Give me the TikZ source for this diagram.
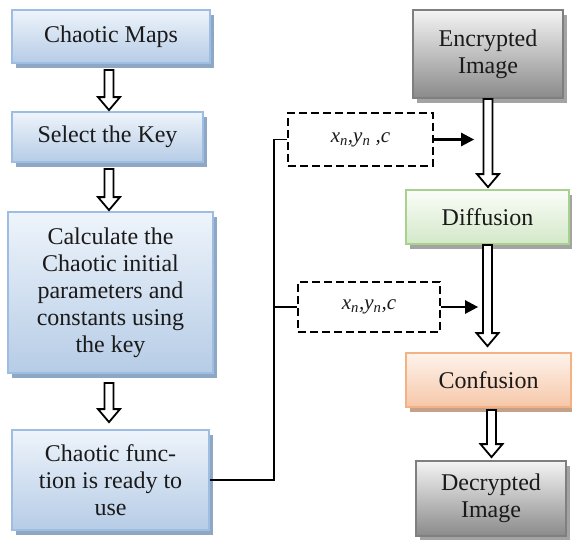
\documentclass[tikz,border=0pt]{standalone}
\usepackage{fontspec}
\setmainfont{Liberation Serif}
\usetikzlibrary{calc,shadows,arrows.meta}
\definecolor{bluetop}{HTML}{EEF4FB}
\definecolor{bluebot}{HTML}{B6CCE6}
\definecolor{blueborder}{HTML}{9DBDE2}
\definecolor{blueshadow}{HTML}{8DA7C4}
\definecolor{graytop}{HTML}{F4F4F4}
\definecolor{graybot}{HTML}{8A8A8A}
\definecolor{grayborder}{HTML}{7F7F7F}
\definecolor{grayshadow}{HTML}{A3A3A3}
\definecolor{greentop}{HTML}{FBFDF9}
\definecolor{greenbot}{HTML}{D3E8C8}
\definecolor{greenborder}{HTML}{A9D18E}
\definecolor{orangetop}{HTML}{FEF3EC}
\definecolor{orangebot}{HTML}{F6C7A8}
\definecolor{orangeborder}{HTML}{F4B183}
\definecolor{orangeshadow}{HTML}{C4A189}
\definecolor{txt}{HTML}{1A1A1A}
\tikzset{
  basebox/.style={rectangle, line width=1.8pt, align=center, text=txt,
    font=\fontsize{24}{27}\selectfont, inner sep=0pt},
  bluebox/.style={basebox, draw=blueborder, top color=bluetop, bottom color=bluebot,
    general shadow={fill=blueshadow, shadow xshift=4pt, shadow yshift=-5pt}},
  graybox/.style={basebox, draw=grayborder, top color=graytop, bottom color=graybot,
    general shadow={fill=grayshadow, shadow xshift=4pt, shadow yshift=-5pt}},
  greenbox/.style={basebox, draw=greenborder, top color=greentop, bottom color=greenbot,
    general shadow={fill=grayshadow, shadow xshift=4pt, shadow yshift=-5pt}},
  orangebox/.style={basebox, draw=orangeborder, top color=orangetop, bottom color=orangebot,
    general shadow={fill=orangeshadow, shadow xshift=4pt, shadow yshift=-5pt}},
  dashbox/.style={rectangle, draw=black, line width=2.3pt, dash pattern=on 8pt off 4pt,
    fill=white, inner sep=0pt, font=\fontsize{21}{24}\selectfont\itshape, text=txt},
  blockarr/.style={draw=black, fill=white, line width=1.8pt, line join=miter},
  conn/.style={draw=black, line width=1.8pt},
  feedarr/.style={draw=black, line width=2.5pt, -{Triangle[length=13pt,width=13pt]}}
}
\newcommand\barrow[2]{\path[blockarr] let \p1=#1, \p2=#2 in
  (\x1-4.5pt,\y1) -- (\x1+4.5pt,\y1) -- (\x1+4.5pt,\y2+13pt) -- (\x1+11pt,\y2+13pt)
  -- (\x1,\y2) -- (\x1-11pt,\y2+13pt) -- (\x1-4.5pt,\y2+13pt) -- cycle;}
\begin{document}
\begin{tikzpicture}[x=1pt,y=-1pt]
\useasboundingbox (0,0) rectangle (572,539);
% left column
\node[bluebox, minimum width=198pt, minimum height=53pt] (cm) at (111,36.5) {Chaotic Maps};
\node[bluebox, minimum width=191pt, minimum height=50pt] (sk) at (107.5,137) {Select the Key};
\node[bluebox, minimum width=205pt, minimum height=161pt] (calc) at (110.5,292.5)
  {Calculate the\\Chaotic initial\\parameters and\\constants using\\the key};
\node[bluebox, minimum width=197pt, minimum height=100pt] (cf) at (110.5,480)
  {Chaotic func-\\tion is ready to\\use};
% right column
\node[graybox, minimum width=150pt, minimum height=88pt] (enc) at (488,54) {Encrypted\\Image};
\node[greenbox, minimum width=163pt, minimum height=54pt] (dif) at (487.5,217) {Diffusion};
\node[orangebox, minimum width=165pt, minimum height=54pt] (con) at (488.5,380) {Confusion};
\node[graybox, minimum width=150pt, minimum height=75pt] (dec) at (491,498.5) {Decrypted\\Image};
% dashed parameter boxes
\node[dashbox, minimum width=145pt, minimum height=53pt] (p1) at (360.5,139.5)
  {x\textsubscript{n},y\textsubscript{n} ,c};
\node[dashbox, minimum width=142pt, minimum height=50pt] (p2) at (369,307)
  {x\textsubscript{n},y\textsubscript{n},c};
% block arrows
\barrow{($(cm.south)+(-2,6)$)}{($(sk.north)+(0,-1)$)}
\barrow{($(sk.south)+(1.5,6)$)}{($(calc.north)+(0,-1)$)}
\barrow{($(calc.south)+(-1.5,9)$)}{($(cf.north)+(0,-7)$)}
\barrow{($(enc.south)+(0,0)$)}{($(dif.north)+(0,-2)$)}
\barrow{($(dif.south)+(0,0)$)}{($(con.north)+(0,-6)$)}
\barrow{($(con.south)+(3,2)$)}{($(dec.north)+(0,-3)$)}
% connectors
\coordinate (bus) at (274,0);
\draw[conn] (cf.east) -- (cf.east -| bus) -- (p1.west -| bus) -- (p1.west);
\draw[conn] (p2.west -| bus) -- (p2.west);
\draw[feedarr] (p1.east) -- ++(40,0);
\draw[feedarr] (p2.east) -- ++(37,0);
\end{tikzpicture}
\end{document}
